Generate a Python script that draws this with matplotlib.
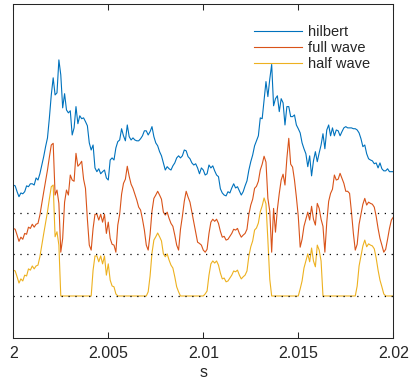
import numpy as np
import matplotlib
matplotlib.use("Agg")
import matplotlib.pyplot as plt

# sample times (s), one sample every 0.1 ms
t = np.linspace(2.0, 2.02, 201)

# envelopes (raw values, before vertical offset)
hilbert = [
    0.66, 0.64, 0.50, 0.38, 0.47, 0.45, 0.50, 0.64, 0.62, 0.69,
    0.69, 0.66, 0.83, 0.78, 0.93, 1.14, 1.34, 1.58, 1.79, 2.27,
    2.82, 3.23, 2.82, 2.87, 3.66, 3.30, 2.51, 2.85, 2.46, 2.39,
    2.44, 1.86, 2.03, 2.54, 2.13, 2.32, 2.25, 2.27, 2.18, 2.08,
    1.67, 1.50, 1.62, 1.07, 0.98, 1.05, 0.93, 0.98, 1.02, 0.83,
    0.78, 1.26, 1.31, 1.26, 1.55, 1.70, 1.74, 2.01, 1.84, 1.72,
    2.10, 1.82, 1.74, 1.79, 1.74, 1.72, 1.72, 1.77, 1.84, 1.96,
    1.96, 1.86, 1.94, 2.06, 1.82, 1.67, 1.60, 1.46, 1.36, 1.19,
    1.02, 1.10, 1.05, 1.02, 1.12, 1.19, 1.31, 1.36, 1.31, 1.36,
    1.50, 1.48, 1.34, 1.29, 1.19, 1.14, 1.17, 1.07, 0.93, 1.07,
    1.02, 0.90, 0.93, 1.14, 1.07, 1.12, 1.00, 0.90, 0.86, 0.57,
    0.47, 0.42, 0.40, 0.50, 0.47, 0.59, 0.69, 0.59, 0.62, 0.52,
    0.42, 0.50, 0.64, 0.76, 1.02, 1.22, 1.38, 1.60, 1.72, 1.84,
    2.27, 2.25, 2.70, 3.14, 2.78, 3.20, 3.55, 2.56, 2.73, 2.80,
    2.42, 2.73, 2.63, 2.10, 2.54, 2.54, 2.30, 2.30, 2.34, 2.10,
    2.01, 1.91, 1.67, 1.53, 1.41, 1.10, 1.36, 0.88, 1.24, 1.46,
    1.22, 1.43, 1.62, 1.89, 1.53, 1.98, 2.10, 1.84, 2.03, 1.84,
    1.98, 1.96, 1.84, 1.94, 2.03, 2.06, 2.03, 2.03, 2.03, 2.01,
    2.01, 1.98, 1.91, 1.77, 1.58, 1.62, 1.41, 1.29, 1.26, 1.24,
    1.17, 1.19, 1.07, 1.19, 1.05, 1.00, 1.00, 1.05, 0.98, 0.98, 0.98,
]

full_wave = [
    0.62, 0.60, 0.46, 0.31, 0.41, 0.36, 0.50, 0.48, 0.65, 0.62,
    0.72, 0.65, 0.72, 0.74, 0.94, 1.22, 1.49, 1.75, 2.02, 2.33,
    2.62, 2.66, 1.42, 1.54, 1.22, 0.05, 0.38, 1.25, 1.54, 1.42,
    1.90, 1.78, 1.75, 2.42, 2.11, 2.16, 2.23, 1.80, 1.58, 0.84,
    0.22, 0.10, 0.62, 0.96, 0.96, 0.82, 0.96, 0.77, 0.96, 0.50,
    0.77, 0.38, 0.24, 0.22, 0.05, 0.70, 0.96, 1.44, 1.70, 1.80,
    2.11, 1.87, 1.68, 1.58, 1.44, 1.30, 1.13, 1.06, 0.84, 0.58,
    0.22, 0.10, 0.48, 1.03, 1.34, 1.42, 1.51, 1.42, 1.32, 1.01,
    0.94, 1.01, 0.86, 0.74, 0.67, 0.46, 0.22, 0.10, 0.60, 0.91,
    1.27, 1.51, 1.37, 1.25, 1.01, 0.77, 0.53, 0.29, 0.26, 0.22,
    0.10, 0.05, 0.12, 0.50, 0.77, 0.84, 0.79, 0.84, 0.74, 0.55,
    0.41, 0.43, 0.34, 0.36, 0.43, 0.50, 0.60, 0.58, 0.62, 0.50,
    0.41, 0.46, 0.50, 0.60, 0.96, 1.18, 1.32, 1.58, 1.63, 1.75,
    2.02, 2.16, 2.35, 2.21, 1.34, 1.03, 0.05, 1.10, 0.53, 1.08,
    1.46, 1.78, 1.92, 1.66, 2.30, 2.78, 2.16, 2.09, 1.78, 1.37,
    0.91, 0.17, 0.36, 0.67, 0.84, 1.01, 0.82, 1.15, 0.84, 0.70,
    1.22, 1.10, 0.84, 0.67, 0.05, 0.77, 1.27, 1.46, 1.56, 1.90,
    1.78, 1.80, 1.94, 1.82, 1.70, 1.51, 1.51, 1.46, 1.01, 0.50,
    0.10, 0.24, 0.72, 0.96, 1.20, 1.34, 1.18, 1.25, 1.22, 1.20,
    1.13, 0.91, 0.62, 0.38, 0.22, 0.05, 0.12, 0.36, 0.62, 0.82, 0.89,
]

half_wave = [
    0.62, 0.60, 0.46, 0.31, 0.41, 0.36, 0.50, 0.48, 0.65, 0.62,
    0.72, 0.65, 0.72, 0.74, 0.94, 1.22, 1.49, 1.75, 2.02, 2.33,
    2.62, 2.66, 1.42, 1.54, 1.22, 0, 0, 0, 0, 0,
    0, 0, 0, 0, 0, 0, 0, 0, 0, 0,
    0, 0, 0.62, 0.96, 0.96, 0.82, 0.96, 0.77, 0.96, 0.50,
    0.77, 0.38, 0.24, 0.22, 0.05, 0, 0, 0, 0, 0,
    0, 0, 0, 0, 0, 0, 0, 0, 0, 0,
    0, 0.10, 0.48, 1.03, 1.34, 1.42, 1.51, 1.42, 1.32, 1.01,
    0.94, 1.01, 0.86, 0.74, 0.67, 0.46, 0.22, 0.10, 0, 0,
    0, 0, 0, 0, 0, 0, 0, 0, 0, 0,
    0, 0.05, 0.12, 0.50, 0.77, 0.84, 0.79, 0.84, 0.74, 0.55,
    0.41, 0.43, 0.34, 0.36, 0.43, 0.50, 0.60, 0.58, 0.62, 0.50,
    0.41, 0.46, 0.50, 0.60, 0.96, 1.18, 1.32, 1.58, 1.63, 1.75,
    2.02, 2.16, 2.35, 2.21, 1.34, 0.40, 0, 0, 0, 0,
    0, 0, 0, 0, 0, 0, 0, 0, 0, 0,
    0, 0.17, 0.36, 0.67, 0.84, 1.01, 0.82, 1.15, 0.84, 0.70,
    1.22, 1.10, 0.84, 0, 0, 0, 0, 0, 0, 0,
    0, 0, 0, 0, 0, 0, 0, 0, 0, 0,
    0, 0.24, 0.72, 0.96, 1.20, 1.34, 1.18, 1.25, 1.22, 1.20,
    1.13, 0.91, 0.62, 0.38, 0.22, 0.05, 0, 0, 0, 0, 0,
]

labels = ["hilbert", "full wave", "half wave"]
offsets = [2, 1, 0]
colors = ["#0072BD", "#D95319", "#EDB120"]
xticks = [2, 2.005, 2.01, 2.015, 2.02]
xtick_labels = ["2", "2.005", "2.01", "2.015", "2.02"]

plt.rcParams["font.family"] = ["Liberation Sans", "DejaVu Sans"]

fig = plt.figure(figsize=(4.1, 3.8), dpi=100)
ax = fig.add_axes([0.0324, 0.1113, 0.9268, 0.8782])

for series, off, col, lab in zip([hilbert, full_wave, half_wave], offsets, colors, labels):
    ax.plot(t, np.array(series) + off, color=col, lw=0.8, label=lab)

for off in offsets:
    ax.axhline(off, color="black", lw=0.9, linestyle=(0, (1, 4.5)))

ax.set_xlim(2, 2.02)
ax.set_ylim(-1, 7)
ax.set_yticks([])
ax.set_xticks(xticks, xtick_labels)
ax.tick_params(axis="x", direction="in", top=True, length=4, width=0.75,
               labelsize=11.5, pad=6, colors="#262626")
for sp in ax.spines.values():
    sp.set_linewidth(0.75)
    sp.set_color("#262626")
ax.set_xlabel("s", fontsize=11.5, color="#262626", labelpad=3)

leg = ax.legend(loc="upper left", bbox_to_anchor=(0.633, 0.936), frameon=False,
                fontsize=10.5, handlelength=3.3, handletextpad=0.4,
                labelspacing=0.12, borderpad=0, borderaxespad=0)
for txt in leg.get_texts():
    txt.set_color("#262626")

fig.savefig("out.png", dpi=100)
